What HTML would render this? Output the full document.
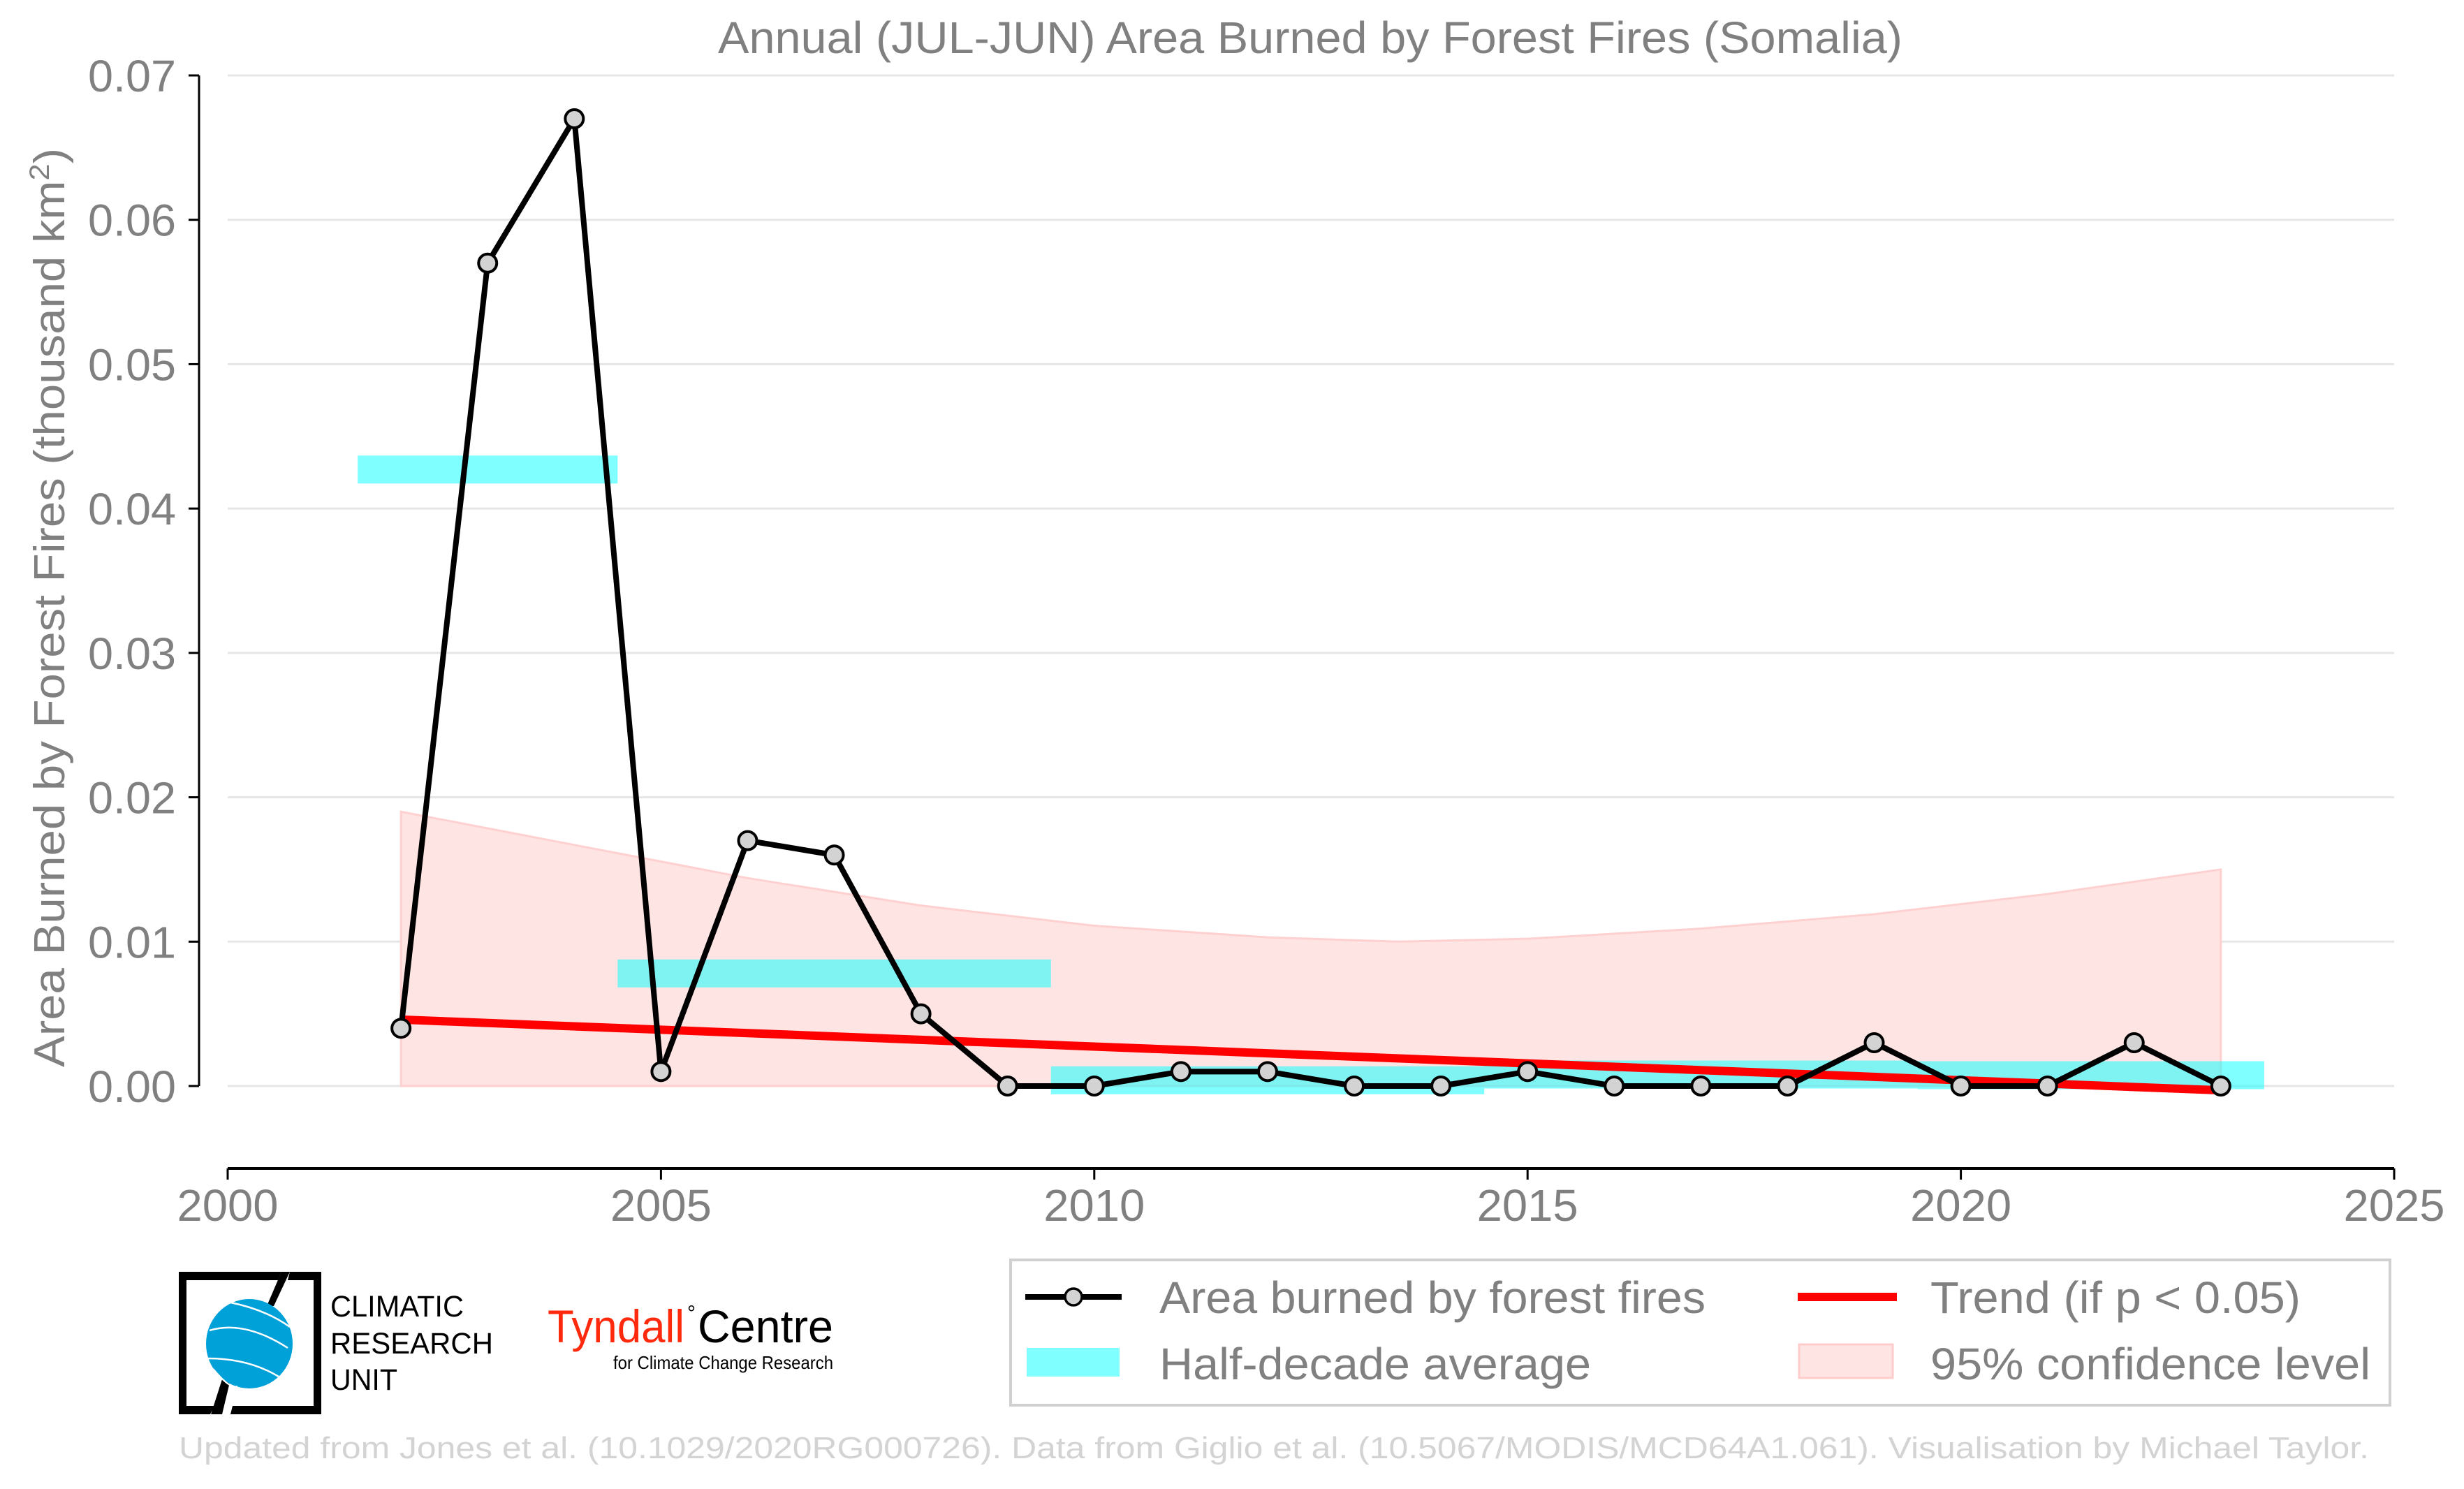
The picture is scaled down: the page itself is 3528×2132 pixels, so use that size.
<!DOCTYPE html>
<html><head><meta charset="utf-8"><style>
html,body{margin:0;padding:0;background:#fff;}
svg{display:block;font-family:"Liberation Sans",Arial,sans-serif;}
</style></head><body>
<svg id="chart" width="3528" height="2132" viewBox="0 0 3528 2132" xmlns="http://www.w3.org/2000/svg">
<text x="1876" y="76" font-size="64" fill="#808080" text-anchor="middle" textLength="1696" lengthAdjust="spacingAndGlyphs">Annual (JUL-JUN) Area Burned by Forest Fires (Somalia)</text>
<text transform="translate(92,870) rotate(-90)" font-size="62" fill="#808080" text-anchor="middle" textLength="1316" lengthAdjust="spacingAndGlyphs">Area Burned by Forest Fires (thousand km<tspan baseline-shift="super" font-size="40">2</tspan>)</text>
<g id="grid"></g>
<g id="ci"></g>
<g id="bars"></g>
<g id="trend"></g>
<g id="series"></g>
<g id="axes"></g>

<g>
<rect x="1447" y="1804" width="1975" height="208" fill="#fff" stroke="#d0d0d0" stroke-width="4"/>
<g>
<line x1="1468" y1="1857" x2="1606" y2="1857" stroke="#000" stroke-width="8"/>
<circle cx="1537" cy="1857" r="12" fill="#d3d3d3" stroke="#000" stroke-width="3.5"/>
<text x="1660" y="1880" font-size="64" fill="#808080" textLength="782" lengthAdjust="spacingAndGlyphs">Area burned by forest fires</text>
</g>
<g>
<rect x="1470" y="1930" width="133" height="41" fill="#00ffff" fill-opacity="0.5"/>
<text x="1660" y="1975" font-size="64" fill="#808080" textLength="618" lengthAdjust="spacingAndGlyphs">Half-decade average</text>
</g>
<g>
<line x1="2574" y1="1857" x2="2716" y2="1857" stroke="#ff0000" stroke-width="12"/>
<text x="2764" y="1880" font-size="64" fill="#808080" textLength="530" lengthAdjust="spacingAndGlyphs">Trend (if p &lt; 0.05)</text>
</g>
<g>
<rect x="2576" y="1925" width="134" height="48" fill="#ffe4e4" stroke="#ffcccc" stroke-width="3"/>
<text x="2764" y="1975" font-size="64" fill="#808080" textLength="630" lengthAdjust="spacingAndGlyphs">95% confidence level</text>
</g>
</g>

<g>
<path d="M403 1821 L256 1821 L256 2025 L301 2025 L307 2013 L267 2013 L267 1833 L398 1833 Z" fill="#000"/>
<path d="M415 1821 L460 1821 L460 2025 L330 2025 L333 2013 L449 2013 L449 1833 L412 1833 Z" fill="#000"/>
<path d="M403 1821 L415 1821 L392 1870 L382 1870 Z" fill="#000"/>
<path d="M318 1975 L330 1975 L318 2025 L302 2025 Z" fill="#000"/>
<ellipse cx="357" cy="1924" rx="62" ry="64" fill="#00a0d8"/>
<path d="M300 1905 Q350 1890 412 1930 M298 1945 Q360 1945 405 1975 M330 1865 Q380 1875 415 1900 M305 1960 Q330 1990 340 1985" stroke="#fff" stroke-width="2.5" fill="none"/>
<text x="473" y="1885" font-size="43" fill="#000" textLength="191" lengthAdjust="spacingAndGlyphs">CLIMATIC</text>
<text x="473" y="1938" font-size="43" fill="#000" textLength="233" lengthAdjust="spacingAndGlyphs">RESEARCH</text>
<text x="473" y="1990" font-size="43" fill="#000" textLength="96" lengthAdjust="spacingAndGlyphs">UNIT</text>
</g>
<g>
<text x="784" y="1922" font-size="66" fill="#ff2a0e" textLength="196" lengthAdjust="spacingAndGlyphs">Tyndall</text>
<text x="984" y="1890" font-size="30" fill="#000">°</text>
<text x="999" y="1922" font-size="66" fill="#000" textLength="194" lengthAdjust="spacingAndGlyphs">Centre</text>
<text x="878" y="1960" font-size="26" fill="#000" textLength="315" lengthAdjust="spacingAndGlyphs">for Climate Change Research</text>
</g>
<text x="256" y="2088" font-size="44" fill="#d3d3d3" textLength="3136" lengthAdjust="spacingAndGlyphs">Updated from Jones et al. (10.1029/2020RG000726). Data from Giglio et al. (10.5067/MODIS/MCD64A1.061). Visualisation by Michael Taylor.</text>
</svg>
<script>
const years = [2002,2003,2004,2005,2006,2007,2008,2009,2010,2011,2012,2013,2014,2015,2016,2017,2018,2019,2020,2021,2022,2023];
const burned = [0.004,0.057,0.067,0.001,0.017,0.016,0.005,0,0,0.001,0.001,0,0,0.001,0,0,0,0.003,0,0,0.003,0];
const halfStart = [2001.5,2004.5,2009.5,2014.5,2019.5];
const halfEnd = [2004.5,2009.5,2014.5,2019.5,2023.5];
const halfMean = [0.0427,0.0078,0.0004,0.0008,0.00075];
const trendYears = [2002,2023];
const trendValues = [0.0046,-0.0003];
const ciYears = [2002,2004,2006,2008,2010,2012,2013.5,2015,2017,2019,2021,2023];
const ciUpper = [0.019,0.0167,0.0144,0.0125,0.0111,0.0103,0.0100,0.0102,0.0109,0.0119,0.0133,0.015];
const ciLower = [0,0,0,0,0,0,0,0,0,0,0,0];
const yTicks = [0,0.01,0.02,0.03,0.04,0.05,0.06,0.07];
const yTickLabels = ["0.00","0.01","0.02","0.03","0.04","0.05","0.06","0.07"];
const xTicks = [2000,2005,2010,2015,2020,2025];

const X0=326, X1=3428, Y0=1555, Y1=108;
const xs = v => X0 + (v-2000)/25*(X1-X0);
const ys = v => Y0 - v/0.07*(Y0-Y1);
const NS="http://www.w3.org/2000/svg";
function mk(tag, attrs, parent){const e=document.createElementNS(NS,tag);for(const k in attrs)e.setAttribute(k,attrs[k]);parent.appendChild(e);return e;}
const g = id => document.getElementById(id);

yTicks.forEach((t,i)=>{
  const l=mk('line',{x1:X0,x2:X1,y1:ys(t),y2:ys(t),stroke:'#e6e6e6','stroke-width':3},g('grid'));
  
  
  const tk=mk('line',{x1:270,x2:285,y1:ys(t),y2:ys(t),stroke:'#000','stroke-width':3},g('axes'));
  
  
  const tx=mk('text',{x:252,y:ys(t)+23,'font-size':64,fill:'#808080','text-anchor':'end',textLength:126,lengthAdjust:'spacingAndGlyphs'},g('axes'));
  tx.textContent=yTickLabels[i];
  
  
});
const ya=mk('line',{x1:285,x2:285,y1:Y1,y2:Y0,stroke:'#000','stroke-width':3},g('axes'));


const xa=mk('line',{x1:X0,x2:X1,y1:1673,y2:1673,stroke:'#000','stroke-width':4},g('axes'));


xTicks.forEach(t=>{
  const tk=mk('line',{x1:xs(t),x2:xs(t),y1:1673,y2:1689,stroke:'#000','stroke-width':3},g('axes'));
  
  
  const tx=mk('text',{x:xs(t),y:1748,'font-size':64,fill:'#808080','text-anchor':'middle',textLength:145,lengthAdjust:'spacingAndGlyphs'},g('axes'));
  tx.textContent=String(t);
  
  
});

let d='';
ciYears.forEach((yr,i)=>{d+=(i?'L':'M')+xs(yr)+' '+ys(ciUpper[i])+' ';});
for(let i=ciYears.length-1;i>=0;i--){d+='L'+xs(ciYears[i])+' '+ys(ciLower[i])+' ';}
const band=mk('path',{d:d+'Z',fill:'#ffe4e4',stroke:'#ffd0d0','stroke-width':3},g('ci'));



halfMean.forEach((m,i)=>{
  const r=mk('rect',{x:xs(halfStart[i]),y:ys(m)-20,width:xs(halfEnd[i])-xs(halfStart[i]),height:40,fill:'#00ffff','fill-opacity':0.5},g('bars'));
  
  
});

const tl=mk('line',{x1:xs(trendYears[0]),y1:ys(trendValues[0]),x2:xs(trendYears[1]),y2:ys(trendValues[1]),stroke:'#ff0000','stroke-width':12},g('trend'));



const pts=years.map((yr,i)=>xs(yr)+','+ys(burned[i])).join(' ');
const pl=mk('polyline',{points:pts,fill:'none',stroke:'#000','stroke-width':8,'stroke-linejoin':'round'},g('series'));


years.forEach((yr,i)=>{
  const c=mk('circle',{cx:xs(yr),cy:ys(burned[i]),r:13,fill:'#d3d3d3',stroke:'#000','stroke-width':4},g('series'));
  
  
});
</script>
</body></html>
